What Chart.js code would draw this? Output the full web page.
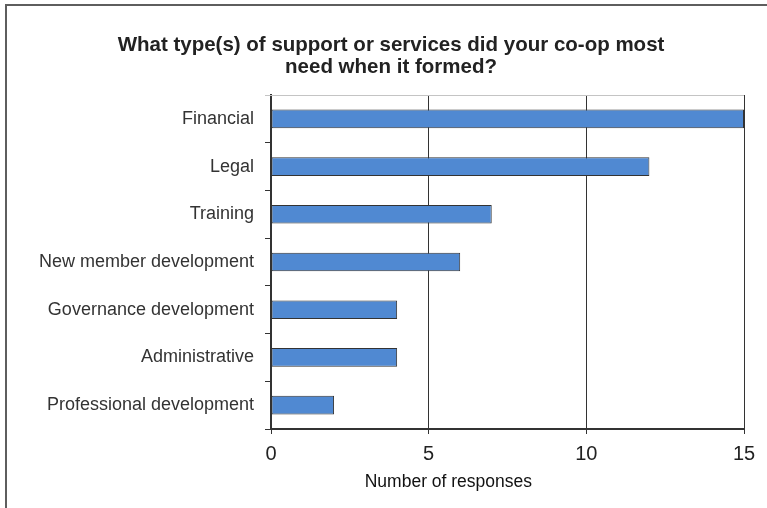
<!DOCTYPE html>
<html lang="en">
<head>
    <meta charset="UTF-8">
    <title>Co-op Support Needs</title>
    <script src="https://cdn.jsdelivr.net/npm/chart.js"></script>
<style>
    html, body {
        margin: 0;
        padding: 0;
        background: #ffffff;
        overflow: hidden;
    }
    /* frame around the chart, runs off the right and bottom edges */
    #frame {
        position: absolute;
        left: 5px;
        top: 4px;
        width: 900px;
        height: 700px;
        border: 2px solid #5e5e5e;
    }
    #needsChart {
        position: absolute;
        left: 0;
        top: 0;
    }
</style>
</head>
<body>
    <div id="frame"></div>
    <canvas id="needsChart" width="767" height="508"></canvas>

    <script>
        // survey answers
        const categories = [
            'Financial',
            'Legal',
            'Training',
            'New member development',
            'Governance development',
            'Administrative',
            'Professional development'
        ];
        const responses = [15, 12, 7, 6, 4, 4, 2];
        const xTicks = [0, 5, 10, 15];

        const titleLines = [
            'What type(s) of support or services did your co-op most',
            'need when it formed?'
        ];
        const axisLabel = 'Number of responses';

        const FONT = '"Liberation Sans", Arial, sans-serif';

        // title, light line across the top of the plot, axis label under the ticks
        const plotExtras = {
            id: 'plotExtras',
            afterDraw(chart) {
                const ctx = chart.ctx;
                const area = chart.chartArea;
                ctx.save();
                ctx.strokeStyle = '#c4c4c4';
                ctx.lineWidth = 1;
                ctx.beginPath();
                ctx.moveTo(area.left - 6, area.top + 0.5);
                ctx.lineTo(area.right, area.top + 0.5);
                ctx.stroke();

                ctx.fillStyle = '#222222';
                ctx.font = 'bold 20.5px ' + FONT;
                ctx.textAlign = 'center';
                ctx.textBaseline = 'middle';
                ctx.fillText(titleLines[0], 391, 45);
                ctx.fillText(titleLines[1], 391, 67);

                ctx.fillStyle = '#111111';
                ctx.font = '17.5px ' + FONT;
                ctx.fillText(axisLabel, area.left + (area.right - area.left) * 0.375, 482);
                ctx.restore();
            }
        };

        const ctx = document.getElementById('needsChart').getContext('2d');
        new Chart(ctx, {
            type: 'bar',
            data: {
                labels: categories,
                datasets: [{
                    data: responses,
                    backgroundColor: '#5089d2',
                    borderColor: '#333333',
                    borderWidth: 1,
                    borderSkipped: false,
                    categoryPercentage: 1,
                    barPercentage: 0.39
                }]
            },
            options: {
                indexAxis: 'y',
                responsive: false,
                animation: false,
                layout: {
                    padding: { left: 0, right: 23, top: 95, bottom: 0 }
                },
                plugins: {
                    legend: { display: false },
                    tooltip: { enabled: false },
                    title: { display: false }
                },
                scales: {
                    x: {
                        min: 0,
                        max: 15,
                        afterBuildTicks(scale) {
                            scale.ticks = xTicks.map(v => ({ value: v }));
                        },
                        afterFit(scale) {
                            scale.height = 79;
                        },
                        grid: {
                            color: '#333333',
                            lineWidth: 1,
                            drawTicks: true,
                            tickLength: 5,
                            tickColor: '#333333'
                        },
                        border: { color: '#333333', width: 2 },
                        ticks: {
                            color: '#222222',
                            padding: 8,
                            font: { family: FONT, size: 20 }
                        }
                    },
                    y: {
                        afterFit(scale) {
                            scale.width = 271;
                        },
                        grid: {
                            offset: true,
                            drawOnChartArea: false,
                            drawTicks: true,
                            tickLength: 6,
                            tickColor: c => (c.index === 0 ? '#c4c4c4' : '#333333')
                        },
                        border: { color: '#333333', width: 2 },
                        ticks: {
                            color: '#333333',
                            padding: 11,
                            font: { family: FONT, size: 18 }
                        }
                    }
                }
            },
            plugins: [plotExtras]
        });
    </script>
</body>
</html>
